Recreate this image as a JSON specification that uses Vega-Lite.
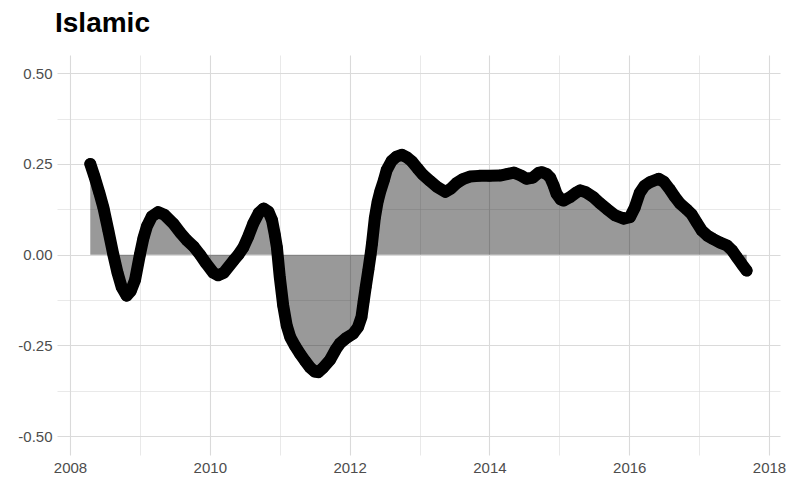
{
  "$schema": "https://vega.github.io/schema/vega-lite/v6.json",
  "width": 723,
  "height": 400,
  "autosize": {"type": "none"},
  "padding": {"left": 57, "top": 55, "right": 10, "bottom": 24},
  "background": "white",
  "title": {"text": "Islamic", "anchor": "start", "frame": "group", "font": "Liberation Sans", "fontSize": 28, "fontWeight": "bold", "color": "#000000", "offset": 21, "baseline": "alphabetic", "dx": -2, "dy": 26},
  "config": {"view": {"stroke": null}},
  "data": {"values": [
    {"t": 2008.29, "v": 0.250}, {"t": 2008.35, "v": 0.215}, {"t": 2008.42, "v": 0.170}, {"t": 2008.48, "v": 0.128},
    {"t": 2008.55, "v": 0.065}, {"t": 2008.62, "v": 0.000}, {"t": 2008.68, "v": -0.050}, {"t": 2008.74, "v": -0.090},
    {"t": 2008.81, "v": -0.113}, {"t": 2008.87, "v": -0.100}, {"t": 2008.93, "v": -0.070}, {"t": 2009.00, "v": 0.000},
    {"t": 2009.05, "v": 0.045}, {"t": 2009.10, "v": 0.078}, {"t": 2009.17, "v": 0.105}, {"t": 2009.26, "v": 0.117},
    {"t": 2009.35, "v": 0.110}, {"t": 2009.48, "v": 0.085}, {"t": 2009.58, "v": 0.060}, {"t": 2009.67, "v": 0.040},
    {"t": 2009.77, "v": 0.022}, {"t": 2009.86, "v": 0.000}, {"t": 2009.95, "v": -0.025}, {"t": 2010.05, "v": -0.050},
    {"t": 2010.12, "v": -0.057}, {"t": 2010.20, "v": -0.050}, {"t": 2010.34, "v": -0.016}, {"t": 2010.41, "v": 0.000},
    {"t": 2010.48, "v": 0.020}, {"t": 2010.55, "v": 0.050}, {"t": 2010.62, "v": 0.085}, {"t": 2010.70, "v": 0.115},
    {"t": 2010.77, "v": 0.127}, {"t": 2010.84, "v": 0.118}, {"t": 2010.89, "v": 0.095}, {"t": 2010.93, "v": 0.055},
    {"t": 2010.96, "v": 0.020}, {"t": 2011.00, "v": -0.060}, {"t": 2011.05, "v": -0.140}, {"t": 2011.10, "v": -0.195},
    {"t": 2011.15, "v": -0.227}, {"t": 2011.22, "v": -0.252}, {"t": 2011.29, "v": -0.273}, {"t": 2011.36, "v": -0.292},
    {"t": 2011.43, "v": -0.310}, {"t": 2011.50, "v": -0.322}, {"t": 2011.55, "v": -0.324}, {"t": 2011.62, "v": -0.312},
    {"t": 2011.72, "v": -0.290}, {"t": 2011.80, "v": -0.262}, {"t": 2011.86, "v": -0.245}, {"t": 2011.95, "v": -0.230},
    {"t": 2012.05, "v": -0.218}, {"t": 2012.12, "v": -0.200}, {"t": 2012.17, "v": -0.172}, {"t": 2012.20, "v": -0.130},
    {"t": 2012.23, "v": -0.090}, {"t": 2012.27, "v": -0.040}, {"t": 2012.30, "v": 0.000}, {"t": 2012.32, "v": 0.030},
    {"t": 2012.36, "v": 0.100}, {"t": 2012.40, "v": 0.145}, {"t": 2012.44, "v": 0.175}, {"t": 2012.49, "v": 0.205},
    {"t": 2012.53, "v": 0.233}, {"t": 2012.60, "v": 0.258}, {"t": 2012.67, "v": 0.270}, {"t": 2012.75, "v": 0.275},
    {"t": 2012.82, "v": 0.268}, {"t": 2012.89, "v": 0.257}, {"t": 2012.97, "v": 0.238}, {"t": 2013.05, "v": 0.220},
    {"t": 2013.15, "v": 0.203}, {"t": 2013.25, "v": 0.187}, {"t": 2013.37, "v": 0.173}, {"t": 2013.45, "v": 0.182},
    {"t": 2013.53, "v": 0.197}, {"t": 2013.62, "v": 0.208}, {"t": 2013.72, "v": 0.215}, {"t": 2013.85, "v": 0.217},
    {"t": 2014.00, "v": 0.217}, {"t": 2014.15, "v": 0.218}, {"t": 2014.25, "v": 0.222}, {"t": 2014.35, "v": 0.226},
    {"t": 2014.45, "v": 0.218}, {"t": 2014.53, "v": 0.209}, {"t": 2014.62, "v": 0.212}, {"t": 2014.70, "v": 0.225},
    {"t": 2014.75, "v": 0.227}, {"t": 2014.82, "v": 0.222}, {"t": 2014.87, "v": 0.212}, {"t": 2014.92, "v": 0.190},
    {"t": 2014.96, "v": 0.168}, {"t": 2015.02, "v": 0.152}, {"t": 2015.06, "v": 0.149}, {"t": 2015.15, "v": 0.158},
    {"t": 2015.25, "v": 0.172}, {"t": 2015.30, "v": 0.177}, {"t": 2015.38, "v": 0.172}, {"t": 2015.49, "v": 0.158},
    {"t": 2015.58, "v": 0.142}, {"t": 2015.68, "v": 0.126}, {"t": 2015.80, "v": 0.108}, {"t": 2015.92, "v": 0.099},
    {"t": 2016.01, "v": 0.103}, {"t": 2016.08, "v": 0.130}, {"t": 2016.15, "v": 0.170}, {"t": 2016.22, "v": 0.190},
    {"t": 2016.30, "v": 0.200}, {"t": 2016.42, "v": 0.209}, {"t": 2016.50, "v": 0.200}, {"t": 2016.58, "v": 0.180},
    {"t": 2016.65, "v": 0.160}, {"t": 2016.73, "v": 0.140}, {"t": 2016.82, "v": 0.125}, {"t": 2016.89, "v": 0.112},
    {"t": 2016.96, "v": 0.090}, {"t": 2017.04, "v": 0.066}, {"t": 2017.12, "v": 0.052}, {"t": 2017.20, "v": 0.043},
    {"t": 2017.30, "v": 0.033}, {"t": 2017.40, "v": 0.025}, {"t": 2017.47, "v": 0.012}, {"t": 2017.54, "v": -0.007},
    {"t": 2017.61, "v": -0.026}, {"t": 2017.68, "v": -0.044}
  ]},
  "encoding": {
    "x": {"field": "t", "type": "quantitative",
      "scale": {"domain": [2007.814, 2018.157], "nice": false, "zero": false},
      "axis": {"title": null, "values": [2008, 2009, 2010, 2011, 2012, 2013, 2014, 2015, 2016, 2017, 2018],
        "labelExpr": "datum.value % 2 === 0 ? format(datum.value, 'd') : ''",
        "domain": false, "ticks": false, "labelFont": "Liberation Sans", "labelFontSize": 15, "labelColor": "#4D4D4D",
        "labelPadding": 5, "labelFlush": false, "labelOverlap": false,
        "grid": true, "gridColor": "#DADADA",
        "gridWidth": {"condition": {"test": "datum.value % 2 === 0", "value": 1.1}, "value": 0.6}}},
    "y": {"field": "v", "type": "quantitative",
      "scale": {"domain": [-0.552, 0.55], "nice": false},
      "axis": {"title": null, "values": [-0.5, -0.375, -0.25, -0.125, 0, 0.125, 0.25, 0.375, 0.5],
        "labelExpr": "(datum.value * 4) % 1 === 0 ? ((datum.value < 0 ? '-' : '') + format(abs(datum.value), '.2f')) : ''",
        "domain": false, "ticks": false, "labelFont": "Liberation Sans", "labelFontSize": 15, "labelColor": "#4D4D4D",
        "labelPadding": 5, "labelOverlap": false, "labelFlush": false,
        "grid": true, "gridColor": "#DADADA",
        "gridWidth": {"condition": {"test": "(datum.value * 4) % 1 === 0", "value": 1.1}, "value": 0.6}}}
  },
  "layer": [
    {"mark": {"type": "area", "color": "#000000", "fillOpacity": 0.4}},
    {"mark": {"type": "line", "color": "#000000", "strokeWidth": 12, "strokeCap": "round", "strokeJoin": "round"}},
    {"mark": {"type": "point", "filled": true, "color": "#000000", "opacity": 1, "size": 130}}
  ]
}
